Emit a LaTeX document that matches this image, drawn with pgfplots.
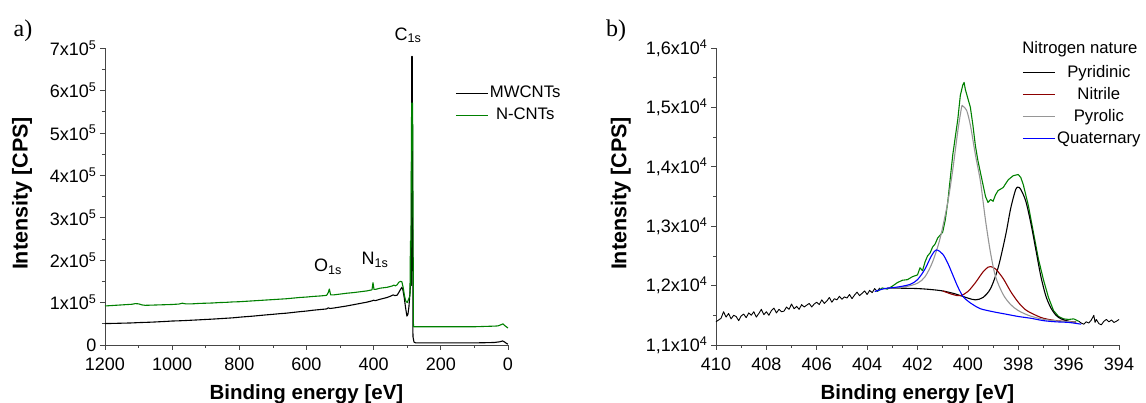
\documentclass[border=0pt]{standalone}
\usepackage{pgfplots}
\pgfplotsset{compat=1.18}
\usepackage{fontspec}
\setmainfont{Liberation Sans}
\newfontfamily\seriffont{Liberation Serif}
\definecolor{ngreen}{RGB}{0,128,0}
\definecolor{nred}{RGB}{140,0,0}
\definecolor{ngray}{RGB}{150,150,150}
\definecolor{nblue}{RGB}{0,0,255}
\definecolor{axcol}{RGB}{70,70,70}

\pgfplotsset{xpsstyle/.style={
  scale only axis, width=403pt, height=297pt,
  axis x line*=bottom, axis y line*=left,
  x dir=reverse,
  tick align=outside,
  major tick length=5pt, minor tick length=3pt,
  every tick/.style={axcol, line width=0.7pt},
  axis line style={axcol, line width=0.8pt},
  tick label style={font=\fontsize{18}{20}\selectfont},
  xticklabel style={yshift=-4pt},
  /pgf/number format/assume math mode=true,
  /pgf/number format/1000 sep={},
  xlabel style={font=\bfseries\fontsize{20.5}{23}\selectfont},
  ylabel style={font=\bfseries\fontsize{21.5}{24}\selectfont},
  clip=false,
  legend style={draw=none, fill=none, font=\fontsize{16.7}{19}\selectfont,
    row sep=3.5pt, nodes={inner sep=1.5pt, text height=12pt, text depth=3.5pt}},
  cells={anchor=center},
  legend image code/.code={\draw[#1, line width=1.3pt] (0pt,0pt) -- (32pt,0pt);},
  every axis plot/.append style={line width=1.1pt, line join=round},
}}

\begin{document}
\begin{tikzpicture}
\useasboundingbox (0pt,0pt) rectangle (1146pt,403pt);
\node[font=\seriffont\fontsize{24}{26}\selectfont] at (23pt,372pt) {a)};
\node[font=\seriffont\fontsize{24}{26}\selectfont] at (616pt,372pt) {b)};

\begin{axis}[xpsstyle,
  at={(105pt,58pt)}, anchor=south west,
  xmin=0, xmax=1200, ymin=0, ymax=700000,
  xtick={0,200,...,1200}, minor x tick num=1,
  ytick={0,100000,...,700000}, minor y tick num=1,
  yticklabels={0,1x10\textsuperscript{5},2x10\textsuperscript{5},3x10\textsuperscript{5},4x10\textsuperscript{5},5x10\textsuperscript{5},6x10\textsuperscript{5},7x10\textsuperscript{5}},
  scaled y ticks=false,
  xlabel={Binding energy [eV]}, ylabel={Intensity [CPS]},
  xlabel style={at={(axis description cs:0.5,-0.165)}, anchor=center},
  ylabel style={at={(axis description cs:-0.206,0.51)}, anchor=center},
  legend style={at={(axis description cs:0.861,0.885)}, anchor=north west},
]
\addplot[black] coordinates {
(1200,50500)(1180,50800)(1160,51200)(1140,51600)(1120,52000)(1100,52800)(1080,53300)(1060,53900)(1040,54700)(1020,55500)
(1000,56500)(980,57000)(960,57700)(940,58500)(920,59300)(900,60200)(880,61000)(860,62000)(840,63000)(820,64000)
(800,65500)(780,66800)(760,68000)(740,69500)(720,71000)(700,72300)(680,73800)(660,75000)(640,76800)(620,78500)
(600,80000)(580,82000)(560,83500)(540,85000)(535,87500)(530,86000)(520,87000)(500,89500)(480,92000)(460,95000)
(440,98000)(420,101000)(405,104000)(400,105500)(395,104500)(380,108000)(360,112000)(350,115000)(342,118000)(337,116500)
(330,117500)(325,124000)(320,131000)(316,136000)(313,130000)(309,112000)(305,88000)(301,68000)(298,72000)(295,90000)
(292,122000)(290,145000)(288,140000)(286.5,680000)(285,680000)(283,20000)(280,7000)(275,5000)(250,5000)(200,5000)
(150,5000)(100,5000)(60,5500)(40,6000)(25,7500)(16,9500)(10,7000)(5,4000)(0,2000)
};
\addlegendentry{MWCNTs}
\addplot[ngreen] coordinates {
(1200,92000)(1180,93000)(1160,94000)(1140,95000)(1120,96000)(1110,97500)(1100,97000)(1090,94500)(1080,93500)(1060,94000)
(1040,94500)(1020,95000)(1000,95500)(980,96500)(970,98500)(960,97000)(940,97000)(920,98000)(900,98500)(880,99000)
(860,100000)(840,100500)(820,101500)(800,102000)(780,103000)(760,104000)(740,105000)(720,106000)(700,107000)(680,108000)
(660,109000)(640,110500)(620,112000)(600,113000)(580,114500)(560,115500)(540,117000)(535,124000)(532,132000)(528,118000)
(520,118000)(500,120000)(480,122000)(460,123500)(440,125500)(420,127500)(405,130000)(402,147000)(399,131000)(395,131000)
(380,134000)(360,136000)(345,139000)(340,141000)(335,139500)(330,142000)(325,148000)(320,150000)(316,149000)(312,135000)
(308,115000)(304,103000)(300,100000)(296,108000)(292,116000)(290.5,245000)(289.5,140000)(287,570000)(284,570000)(281.5,43000)
(270,43000)(200,43000)(150,43000)(100,43000)(60,44000)(40,44500)(30,45000)(20,48000)(15,50000)(10,46000)(5,43000)(0,40000)
};
\addlegendentry{N-CNTs}
\node[font=\fontsize{18}{20}\selectfont] at (axis cs:298,730000) {C\textsubscript{1s}};
\node[font=\fontsize{18}{20}\selectfont] at (axis cs:536,184000) {O\textsubscript{1s}};
\node[font=\fontsize{18}{20}\selectfont] at (axis cs:396,200000) {N\textsubscript{1s}};
\end{axis}

\begin{axis}[xpsstyle,
  at={(716pt,58pt)}, anchor=south west,
  xmin=394, xmax=410, ymin=11000, ymax=16000,
  xtick={394,396,...,410}, minor x tick num=1,
  ytick={11000,12000,...,16000}, minor y tick num=1,
  yticklabels={{1,1x10\textsuperscript{4}},{1,2x10\textsuperscript{4}},{1,3x10\textsuperscript{4}},{1,4x10\textsuperscript{4}},{1,5x10\textsuperscript{4}},{1,6x10\textsuperscript{4}}},
  scaled y ticks=false,
  xlabel={Binding energy [eV]}, ylabel={Intensity [CPS]},
  xlabel style={at={(axis description cs:0.5,-0.165)}, anchor=center},
  ylabel style={at={(axis description cs:-0.236,0.51)}, anchor=center},
  legend style={at={(axis description cs:0.752,0.955)}, anchor=north west},
]
% raw spectrum, background region (drawn in black)
\addplot[black, line width=0.9pt, forget plot] coordinates {
(410.0,11390)(409.9,11420)(409.8,11450)(409.7,11560)(409.6,11470)(409.5,11530)(409.4,11440)(409.3,11500)(409.2,11480)(409.1,11410)
(409.0,11490)(408.9,11520)(408.8,11460)(408.7,11540)(408.6,11500)(408.5,11560)(408.4,11470)(408.3,11530)(408.2,11600)(408.1,11510)
(408.0,11560)(407.9,11500)(407.8,11580)(407.7,11620)(407.6,11540)(407.5,11600)(407.4,11560)(407.3,11570)(407.2,11640)(407.1,11600)
(407.0,11690)(406.9,11610)(406.8,11650)(406.7,11600)(406.6,11680)(406.5,11640)(406.4,11670)(406.3,11700)(406.2,11640)(406.1,11690)
(406.0,11720)(405.9,11680)(405.8,11760)(405.7,11700)(405.6,11740)(405.5,11800)(405.4,11720)(405.3,11780)(405.2,11760)(405.1,11820)
(405.0,11770)(404.9,11810)(404.8,11790)(404.7,11850)(404.6,11780)(404.5,11840)(404.4,11890)(404.3,11830)(404.2,11870)(404.1,11910)
(404.0,11850)(403.9,11920)(403.8,11880)(403.7,11950)(403.6,11900)(403.5,11960)
};
\addplot[black, line width=0.9pt, forget plot] coordinates {
(395.6,11400)(395.5,11370)(395.4,11350)(395.3,11390)(395.2,11370)(395.1,11420)(395.0,11500)(394.95,11380)(394.9,11430)(394.8,11360)
(394.7,11340)(394.6,11400)(394.5,11430)(394.4,11390)(394.3,11420)(394.2,11380)(394.1,11400)(394.0,11430)
};
% envelope (green)
\addplot[ngreen, forget plot] coordinates {
(403.6,11900)(403.4,11960)(403.2,11940)(403.0,11990)(402.8,12050)(402.6,12090)(402.4,12100)(402.2,12150)(402.0,12180)(401.9,12300)
(401.8,12250)(401.7,12400)(401.6,12500)(401.5,12550)(401.4,12650)(401.3,12700)(401.2,12800)(401.1,12850)(401.0,12900)(400.9,13100)
(400.8,13400)(400.7,13800)(400.6,14200)(400.5,14500)(400.4,14800)(400.3,15200)(400.2,15380)(400.15,15420)(400.1,15300)(400.0,15150)
(399.9,15000)(399.8,14700)(399.7,14350)(399.6,14100)(399.5,13900)(399.4,13700)(399.3,13500)(399.2,13400)(399.1,13450)(399.0,13420)
(398.9,13530)(398.8,13600)(398.6,13650)(398.4,13780)(398.2,13850)(398.0,13870)(397.9,13820)(397.8,13700)(397.6,13350)(397.4,12900)
(397.2,12450)(397.0,12100)(396.8,11800)(396.6,11580)(396.4,11480)(396.2,11440)(396.0,11430)(395.8,11440)(395.6,11400)
};
\addplot[black, smooth] coordinates {
(403.2,11960)(402.5,11955)(402,11950)(401.5,11935)(401,11910)(400.5,11860)(400,11790)(399.7,11760)(399.4,11800)(399.1,11950)
(398.8,12300)(398.5,12850)(398.3,13300)(398.1,13620)(398.0,13655)(397.9,13620)(397.7,13420)(397.5,13050)(397.3,12600)(397.1,12150)
(396.9,11820)(396.7,11620)(396.5,11500)(396.3,11440)(396,11400)(395.7,11385)
};
\addlegendentry{Pyridinic}
\addplot[nred, smooth] coordinates {
(401.0,11910)(400.6,11850)(400.3,11830)(400.0,11900)(399.7,12050)(399.4,12230)(399.2,12310)(399.1,12320)(398.9,12280)(398.6,12120)
(398.3,11900)(398.0,11720)(397.7,11590)(397.3,11500)(397,11450)(396.5,11410)(396,11395)(395.7,11385)
};
\addlegendentry{Nitrile}
\addplot[ngray, smooth] coordinates {
(403.2,11960)(402.5,11980)(402,12040)(401.7,12150)(401.4,12400)(401.1,12800)(400.8,13400)(400.6,13950)(400.4,14600)(400.25,15000)
(400.2,15020)(400.05,14950)(399.9,14700)(399.7,14200)(399.5,13750)(399.3,13100)(399.1,12550)(398.9,12150)(398.6,11850)(398.3,11680)
(398.0,11580)(397.6,11500)(397.2,11450)(396.8,11420)(396.3,11400)(395.7,11385)
};
\addlegendentry{Pyrolic}
\addplot[nblue, smooth] coordinates {
(403.7,11900)(403.3,11950)(402.8,11975)(402.3,12020)(402.0,12100)(401.7,12280)(401.45,12500)(401.25,12600)(401.0,12530)(400.8,12380)
(400.6,12180)(400.4,11980)(400.2,11820)(400.0,11740)(399.8,11680)(399.5,11610)(399.0,11560)(398.5,11520)(398.0,11480)(397.5,11450)
(397.0,11410)(396.5,11390)(396.0,11380)(395.5,11350)
};
\addlegendentry{Quaternary}
\node[font=\fontsize{16.7}{19}\selectfont] at (axis description cs:0.903,0.997) {Nitrogen nature};
\end{axis}
\end{tikzpicture}
\end{document}
